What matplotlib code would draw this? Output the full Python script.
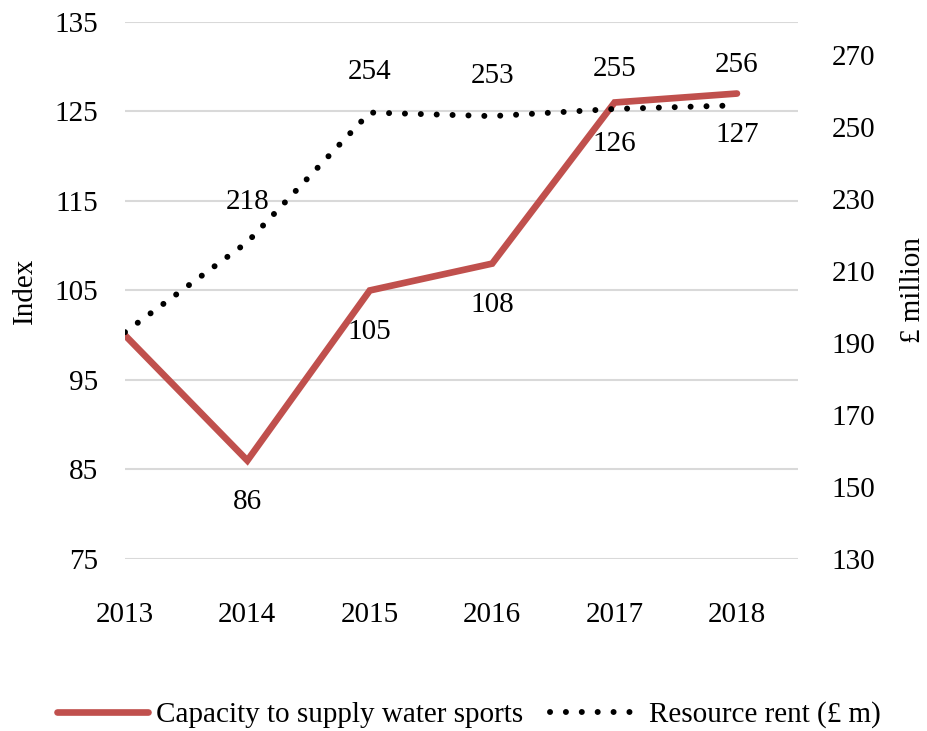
import matplotlib
matplotlib.use("Agg")
import matplotlib.pyplot as plt

years = [2013, 2014, 2015, 2016, 2017, 2018]
capacity_index = [100, 86, 105, 108, 126, 127]
resource_rent = [193, 218, 254, 253, 255, 256]
left_ticks = [75, 85, 95, 105, 115, 125, 135]
right_ticks = [130, 150, 170, 190, 210, 230, 250, 270]

plt.rcParams['font.family'] = ['Liberation Serif', 'DejaVu Serif']
FS = 21

fig = plt.figure(figsize=(9.27, 7.31), dpi=100)
ax = fig.add_axes([0.1348, 0.2353, 0.861 - 0.1348, 0.970 - 0.2353])
ax2 = ax.twinx()

red = '#C0504D'
ax.plot(years, capacity_index, color=red, lw=4.8, solid_capstyle='round',
        solid_joinstyle='miter', label='Capacity to supply water sports', zorder=3)
ax2.plot(years, resource_rent, color='black', lw=4.3,
         linestyle=(0, (0.01, 2.65)), dash_capstyle='round',
         label='Resource rent (£ m)', zorder=4)

ax.set_xlim(2013, 2018.5)
ax.set_ylim(75, 135)
ax2.set_ylim(130, 130 + 537 / 72 * 20)
ax.set_yticks(left_ticks)
ax2.set_yticks(right_ticks)
ax.set_xticks(years)
ax.set_xticklabels([str(y) for y in years])

ax.grid(axis='y', color='#D9D9D9', lw=1.5)
ax.set_axisbelow(True)
for a in (ax, ax2):
    for s in a.spines.values():
        s.set_visible(False)
    a.tick_params(length=0, labelsize=FS)
ax.tick_params(axis='y', pad=19.5)
ax2.tick_params(axis='y', pad=24)
ax.tick_params(axis='x', pad=31)

ax.set_ylabel('Index', fontsize=FS, labelpad=12)
ax2.set_ylabel('£ million', fontsize=FS, rotation=90, labelpad=18)

for x, v in zip(years, capacity_index):
    if x == 2013:
        continue
    ax.annotate(str(v), (x, v), xytext=(0, -30), textcoords='offset points',
                ha='center', va='center', fontsize=FS)
for x, v in zip(years, resource_rent):
    if x == 2013:
        continue
    ax2.annotate(str(v), (x, v), xytext=(0, 29), textcoords='offset points',
                 ha='center', va='center', fontsize=FS)

h1, l1 = ax.get_legend_handles_labels()
h2, l2 = ax2.get_legend_handles_labels()
fig.legend(h1 + h2, l1 + l2, loc='center', bbox_to_anchor=(0.506, 0.022),
           ncol=2, frameon=False, fontsize=FS, handlelength=3.1,
           handletextpad=0.3, columnspacing=0.9)

fig.savefig('out.png', dpi=100)
